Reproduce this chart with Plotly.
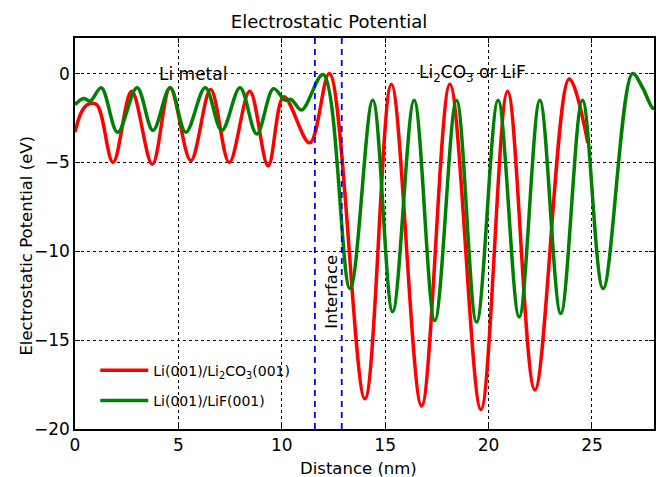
import plotly.graph_objects as go

# ---- data ----
red_x = [0.0, 0.3, 0.6, 1.05, 1.84, 2.74, 3.74, 4.6, 5.6, 6.56, 7.46, 8.45, 9.34, 10.1,
         11.35, 12.3, 14.02, 15.3, 16.76, 18.13, 19.63, 20.92, 22.24, 23.9, 24.8]
red_y = [-3.3, -2.2, -1.75, -1.75, -5.0, -1.0, -5.1, -0.8, -4.9, -0.9, -5.0, -1.0, -5.2, -1.3,
         -3.9, 0.0, -18.3, -0.6, -18.7, -0.6, -18.9, -1.0, -17.8, -0.3, -3.9]

green_x = [0.0, 0.42, 0.74, 1.27, 2.06, 3.0, 3.77, 4.6, 5.36, 6.3, 7.1, 7.98, 8.79, 9.6,
           10.16, 10.45, 10.96, 12.0, 13.3, 14.4, 15.36, 16.4, 17.4, 18.45, 19.42, 20.46,
           21.48, 22.48, 23.49, 24.54, 25.54, 26.96, 27.45, 27.95, 28.1]
green_y = [-1.75, -1.4, -1.55, -0.8, -3.3, -0.8, -3.2, -0.8, -3.3, -0.8, -3.2, -0.8, -3.4, -0.85,
           -1.5, -1.45, -2.05, -0.05, -12.1, -1.5, -13.4, -1.5, -13.9, -1.5, -14.0, -1.5,
           -13.7, -1.5, -13.5, -1.5, -12.1, 0.0, -0.8, -1.95, -1.85]

interface_x = [11.6, 12.9]

series_names = ["Li(001)/Li<sub>2</sub>CO<sub>3</sub>(001)", "Li(001)/LiF(001)"]
x_ticks = [0, 5, 10, 15, 20, 25]
y_ticks = [0, -5, -10, -15, -20]

FONT = "DejaVu Sans"

fig = go.Figure()
fig.add_trace(go.Scatter(x=red_x, y=red_y, mode="lines", name=series_names[0],
                         line=dict(color="#ff0000", width=3.5, shape="spline", smoothing=1.0),
                         legendgroup="a"))
fig.add_trace(go.Scatter(x=green_x, y=green_y, mode="lines", name=series_names[1],
                         line=dict(color="#008000", width=3.5, shape="spline", smoothing=1.0),
                         legendgroup="b"))

for xv in interface_x:
    fig.add_vline(x=xv, line=dict(color="#0000ff", width=1.8, dash="6px,5px"))

fig.add_annotation(x=5.7, y=0, text="Li metal", showarrow=False,
                   font=dict(family=FONT, size=17, color="black"))
fig.add_annotation(x=19.2, y=0, text="Li<sub>2</sub>CO<sub>3</sub> or LiF", showarrow=False,
                   font=dict(family=FONT, size=17, color="black"))
fig.add_annotation(x=12.4, y=-12.25, text="Interface", showarrow=False, textangle=-90,
                   font=dict(family=FONT, size=16.5, color="black"))

# axis titles placed as annotations (paper coordinates of the plot area)
fig.add_annotation(xref="paper", yref="paper", x=0.489, y=-0.102, text="Distance (nm)",
                   showarrow=False, xanchor="center", yanchor="middle",
                   font=dict(family=FONT, size=16.5, color="black"))
fig.add_annotation(xref="paper", yref="paper", x=-0.084, y=0.47, text="Electrostatic Potential (eV)",
                   showarrow=False, xanchor="center", yanchor="middle", textangle=-90,
                   font=dict(family=FONT, size=16.5, color="black"))

axis_common = dict(showline=True, linecolor="black", linewidth=1.5, mirror="ticks",
                   ticks="inside", ticklen=5, tickcolor="black", tickwidth=1,
                   showgrid=True, gridcolor="black", gridwidth=1, griddash="dot",
                   zeroline=False, tickfont=dict(family=FONT, size=17, color="black"))

fig.update_layout(
    width=660, height=477,
    margin=dict(l=75, r=4, t=38, b=48),
    paper_bgcolor="white", plot_bgcolor="white",
    title=dict(text="Electrostatic Potential", x=0.4985, xanchor="center", y=0.954, yanchor="middle",
               font=dict(family=FONT, size=18, color="black")),
    xaxis=dict(range=[0, 28], tickvals=x_ticks, **axis_common),
    yaxis=dict(range=[-20, 2], tickvals=y_ticks, **axis_common),
    legend=dict(x=0.035, y=0.19, xanchor="left", yanchor="top", bgcolor="rgba(0,0,0,0)",
                font=dict(family=FONT, size=14, color="black"), tracegroupgap=9,
                itemwidth=48),
    showlegend=True,
)

fig.write_html("out.html")
